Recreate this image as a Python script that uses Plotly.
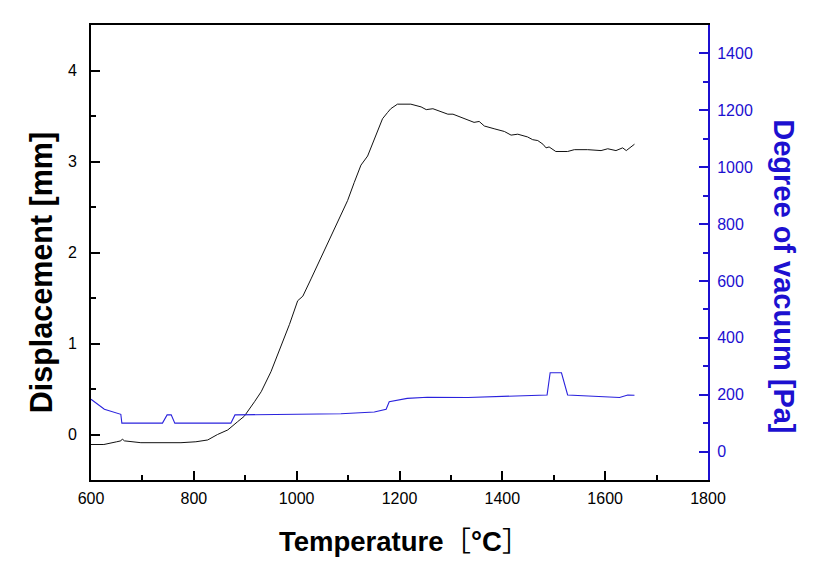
import plotly.graph_objects as go

# displacement curve (black, left axis)
temp_disp = [600, 625, 650, 658, 661, 665, 697, 736, 775, 804, 827, 846, 866, 885, 898,
             918, 931, 950, 970, 986, 1002, 1012, 1028, 1047, 1073, 1099, 1112, 1125,
             1138, 1151, 1167, 1177, 1183, 1196, 1222, 1242, 1252, 1265, 1294, 1304,
             1319, 1345, 1355, 1365, 1384, 1404, 1417, 1430, 1449, 1459, 1469, 1479,
             1485, 1491, 1504, 1527, 1540, 1566, 1592, 1605, 1621, 1634, 1641, 1657]
displacement = [-0.11, -0.11, -0.08, -0.07, -0.05, -0.07, -0.09, -0.09, -0.09, -0.08,
                -0.06, 0.0, 0.05, 0.14, 0.2, 0.36, 0.47, 0.69, 0.97, 1.21, 1.47, 1.52,
                1.71, 1.94, 2.24, 2.57, 2.77, 2.96, 3.06, 3.25, 3.47, 3.54, 3.58, 3.63,
                3.63, 3.6, 3.57, 3.58, 3.52, 3.52, 3.49, 3.43, 3.44, 3.39, 3.36, 3.33,
                3.29, 3.3, 3.27, 3.24, 3.23, 3.19, 3.15, 3.16, 3.11, 3.11, 3.13, 3.13,
                3.12, 3.14, 3.12, 3.15, 3.12, 3.19]

# vacuum curve (blue, right axis)
temp_vac = [600, 626, 658, 660, 739, 748, 756, 763, 872, 880, 1086, 1151, 1174, 1180,
            1215, 1254, 1333, 1417, 1487, 1493, 1515, 1527, 1565, 1617, 1628, 1644, 1657]
vacuum = [184, 149, 131, 100, 100, 129, 129, 100, 100, 129, 133, 139, 149, 175,
          187, 191, 190, 195, 199, 277, 277, 199, 195, 190, 190, 199, 198]

BLUE = "#1c10d0"
FONT = "Liberation Sans, Arial, sans-serif"

fig = go.Figure()
fig.add_trace(go.Scatter(x=temp_disp, y=displacement, mode="lines",
                         line=dict(color="#111111", width=1), showlegend=False))
fig.add_trace(go.Scatter(x=temp_vac, y=vacuum, mode="lines", yaxis="y2",
                         line=dict(color="#2a22dd", width=1.1), showlegend=False))

fig.update_layout(
    width=819, height=576,
    margin=dict(l=83, r=119, t=17, b=104),
    paper_bgcolor="white", plot_bgcolor="white",
    font=dict(family=FONT, size=16, color="black"),
    xaxis=dict(range=[600, 1800], dtick=200, tick0=600, showgrid=False, zeroline=False,
               showline=True, linecolor="black", linewidth=2, mirror=True,
               ticks="inside", ticklen=9, tickwidth=1.5, tickcolor="black",
               ticklabelstandoff=3,
               minor=dict(ticks="inside", dtick=100, ticklen=5, tickwidth=1.5,
                          tickcolor="black")),
    yaxis=dict(range=[-0.5, 4.5], dtick=1, tick0=0, showgrid=False, zeroline=False,
               showline=True, linecolor="black", linewidth=2,
               ticks="inside", ticklen=9, tickwidth=1.5, tickcolor="black",
               ticklabelstandoff=9,
               minor=dict(ticks="inside", dtick=0.5, ticklen=5, tickwidth=1.5,
                          tickcolor="black")),
    yaxis2=dict(range=[-100, 1500], dtick=200, tick0=0, overlaying="y", side="right",
                anchor="x", showgrid=False, zeroline=False,
                showline=True, linecolor=BLUE, linewidth=2,
                ticks="inside", ticklen=9, tickwidth=1.5, tickcolor=BLUE,
                tickfont=dict(color=BLUE, size=16), ticklabelstandoff=4,
                minor=dict(ticks="inside", dtick=100, ticklen=5, tickwidth=1.5,
                           tickcolor=BLUE)),
)

fig.add_annotation(text="<b>Temperature</b>［<b>°C</b>］", xref="paper", yref="paper",
                   x=0.507, y=-0.135, xanchor="center", yanchor="middle", showarrow=False,
                   font=dict(family="Liberation Sans, Noto Sans CJK JP", size=27.5,
                             color="black"))
fig.add_annotation(text="<b>Displacement [mm]</b>", xref="paper", yref="paper",
                   x=-0.079, y=0.455, xanchor="center", yanchor="middle",
                   textangle=-90, showarrow=False,
                   font=dict(family=FONT, size=30.5, color="black"))
fig.add_annotation(text="<b>Degree of vacuum [Pa]</b>", xref="paper", yref="paper",
                   x=1.123, y=0.448, xanchor="center", yanchor="middle",
                   textangle=90, showarrow=False,
                   font=dict(family=FONT, size=29, color=BLUE))

fig.write_html("out.html")
